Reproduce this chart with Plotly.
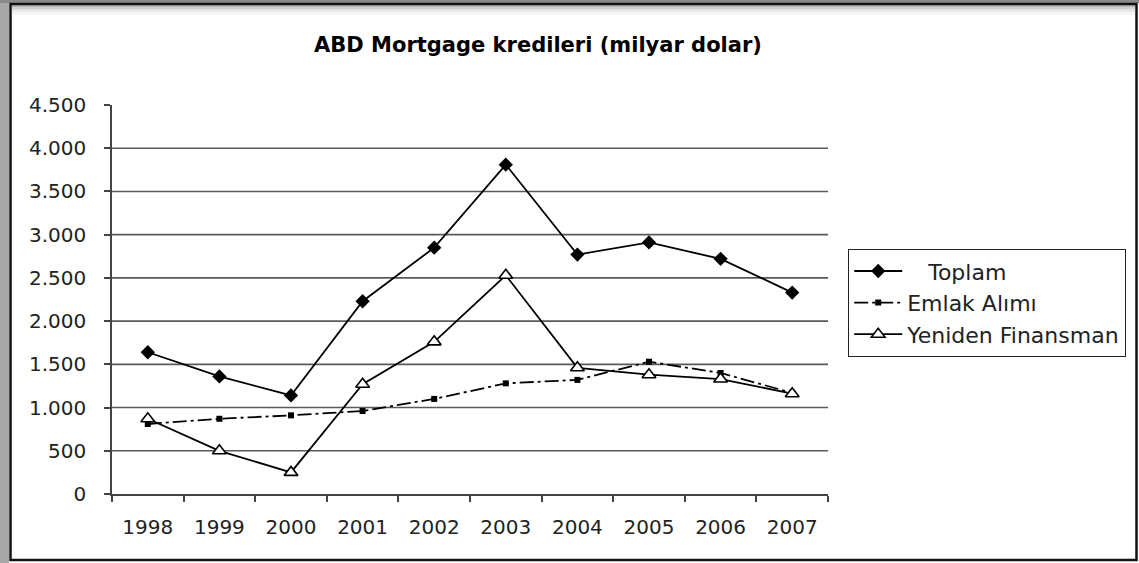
import plotly.graph_objects as go

# Data (billion USD)
years = ["1998", "1999", "2000", "2001", "2002", "2003", "2004", "2005", "2006", "2007"]
toplam = [1640, 1360, 1140, 2230, 2850, 3810, 2770, 2910, 2720, 2330]
emlak_alimi = [810, 870, 910, 960, 1100, 1280, 1320, 1530, 1400, 1170]
yeniden_finansman = [870, 500, 250, 1270, 1760, 2530, 1460, 1380, 1330, 1160]
y_ticks = [0, 500, 1000, 1500, 2000, 2500, 3000, 3500, 4000, 4500]
grid_values = [500, 1000, 1500, 2000, 2500, 3000, 3500, 4000]

W, H = 1139, 563
L, R, T, B = 112, 311, 105, 69
plot_w = W - L - R
plot_h = H - T - B

FONT = "DejaVu Sans"


def px_x(p):
    return (p - L) / plot_w


def px_y(p):
    return (H - B - p) / plot_h


fig = go.Figure()

fig.add_trace(go.Scatter(
    x=years, y=toplam, name="\u00a0\u00a0\u00a0Toplam", legendgroup="a",
    mode="lines+markers",
    line=dict(color="black", width=1.8),
    marker=dict(symbol="diamond", size=11, color="black"),
))
fig.add_trace(go.Scatter(
    x=years, y=emlak_alimi, name="Emlak Alımı", legendgroup="b",
    mode="lines+markers",
    line=dict(color="black", width=1.8, dash="14px,4px,3px,4px"),
    marker=dict(symbol="square", size=6, color="black"),
))
fig.add_trace(go.Scatter(
    x=years, y=yeniden_finansman, name="Yeniden Finansman", legendgroup="c",
    mode="lines+markers",
    line=dict(color="black", width=1.8),
    marker=dict(symbol="triangle-up", size=12, color="white",
                line=dict(color="black", width=1.6)),
))

# horizontal gridlines (none at the top tick, as in the original)
shapes = []
for v in grid_values:
    shapes.append(dict(type="line", xref="paper", yref="y", x0=0, x1=1, y0=v, y1=v,
                       line=dict(color="#5a5a5a", width=1.6), layer="below"))

# outer frame of the chart image
shapes.append(dict(type="rect", xref="paper", yref="paper",
                   x0=px_x(0), x1=px_x(9), y0=px_y(H), y1=px_y(0),
                   fillcolor="#a8a8a8", line=dict(width=0), layer="below"))
shapes.append(dict(type="rect", xref="paper", yref="paper",
                   x0=px_x(0), x1=px_x(W), y0=px_y(3), y1=px_y(0),
                   fillcolor="#8a8a8a", line=dict(width=0), layer="below"))
for i, c in enumerate(["#b8b8b8", "#d0d0d0", "#e2e2e2", "#efefef", "#f7f7f7"]):
    shapes.append(dict(type="line", xref="paper", yref="paper",
                       x0=px_x(12), x1=px_x(1135), y0=px_y(6 + i * 2), y1=px_y(6 + i * 2),
                       line=dict(color=c, width=2), layer="below"))
shapes.append(dict(type="rect", xref="paper", yref="paper",
                   x0=px_x(10.5), x1=px_x(1136.5), y0=px_y(560), y1=px_y(4),
                   line=dict(color="#111111", width=2.5), layer="below"))

fig.update_layout(
    width=W, height=H,
    margin=dict(l=L, r=R, t=T, b=B),
    paper_bgcolor="white", plot_bgcolor="white",
    separators=",.",
    font=dict(family=FONT, size=20, color="#222222"),
    title=dict(text="<b>ABD Mortgage kredileri (milyar dolar)</b>",
               font=dict(family=FONT, size=21, color="black"),
               xref="paper", x=px_x(538), xanchor="center",
               yref="container", y=1 - 45 / H, yanchor="middle"),
    xaxis=dict(type="category", range=[-0.5, 9.5], showgrid=False,
               showline=True, linecolor="#444444", linewidth=1.6,
               ticks="outside", ticklen=6, tickcolor="#444444", tickwidth=1.6,
               tickson="boundaries", ticklabelstandoff=14,
               tickfont=dict(family=FONT, size=20, color="#222222")),
    yaxis=dict(range=[0, 4500], tickvals=y_ticks, tickformat=",.0f",
               showgrid=False, zeroline=False,
               showline=True, linecolor="#444444", linewidth=1.6,
               ticks="outside", ticklen=6, tickcolor="#444444", tickwidth=1.6,
               ticklabelstandoff=14,
               tickfont=dict(family=FONT, size=20, color="#222222")),
    legend=dict(x=px_x(848), xanchor="left", y=px_y(249), yanchor="top",
                bordercolor="#222222", borderwidth=1.2, bgcolor="white",
                font=dict(family=FONT, size=22, color="#222222"),
                tracegroupgap=0, itemwidth=48),
    shapes=shapes,
    showlegend=True,
)

# the page body has a default 8px margin; drop it so the figure sits at 0,0
fig.write_html("out.html", config={"displayModeBar": False},
               post_script="document.body.style.margin='0';")
